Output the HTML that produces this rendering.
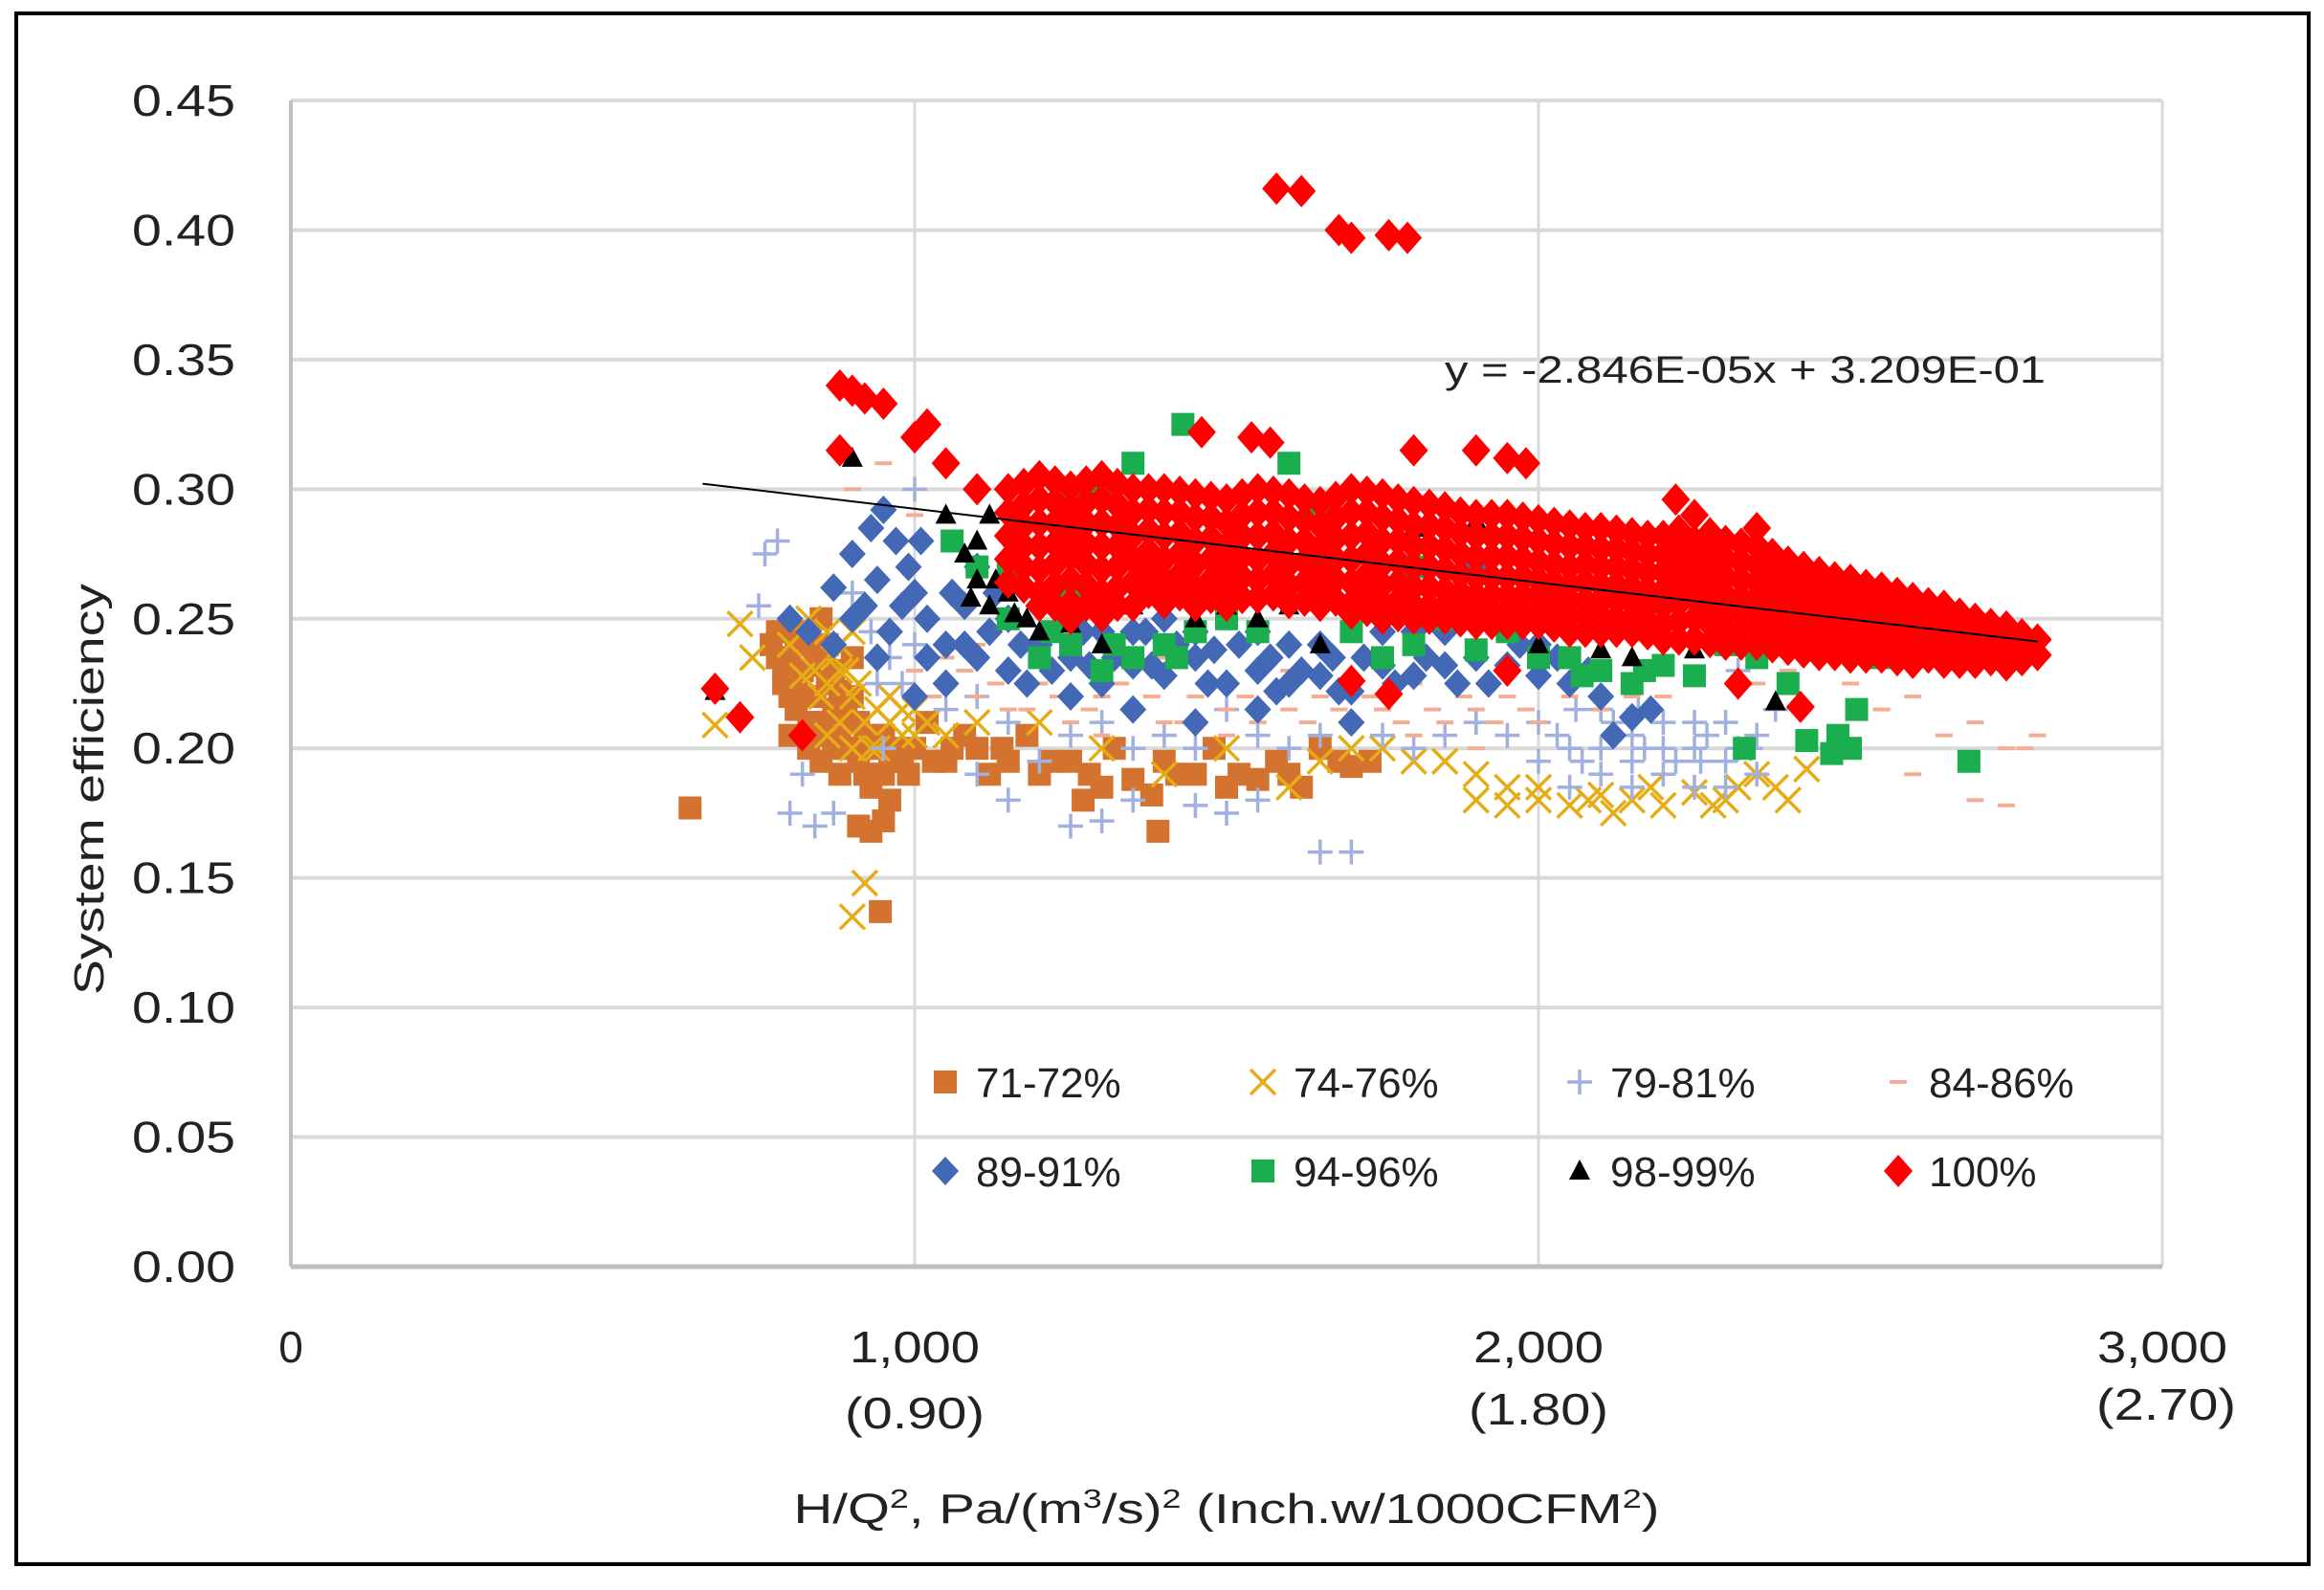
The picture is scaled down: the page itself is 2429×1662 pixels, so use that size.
<!DOCTYPE html>
<html><head><meta charset="utf-8"><style>
html,body{margin:0;padding:0;background:#fff}
svg{display:block}
text{font-family:"Liberation Sans",sans-serif;fill:#222}
</style></head><body>
<svg id="chart" width="2429" height="1662" viewBox="0 0 2429 1662" xmlns="http://www.w3.org/2000/svg">
<rect x="17" y="14" width="2396" height="1621" fill="#fff" stroke="#000" stroke-width="4"/>
<g id="grid"></g>
<g id="marks"></g>
<g id="axes"></g>
<text x="1510" y="400" font-size="40" textLength="628" lengthAdjust="spacingAndGlyphs">y = -2.846E-05x + 3.209E-01</text>
<text transform="translate(108,825) rotate(-90)" text-anchor="middle" font-size="44" textLength="430" lengthAdjust="spacingAndGlyphs">System efficiency</text>
<text x="1282" y="1592" text-anchor="middle" font-size="44" textLength="905" lengthAdjust="spacingAndGlyphs">H/Q<tspan font-size="28" dy="-16">2</tspan><tspan dy="16">, Pa/(m</tspan><tspan font-size="28" dy="-16">3</tspan><tspan dy="16">/s)</tspan><tspan font-size="28" dy="-16">2</tspan><tspan dy="16"> (Inch.w/1000CFM</tspan><tspan font-size="28" dy="-16">2</tspan><tspan dy="16">)</tspan></text>
<g id="legend"></g>
</svg>
<script>
const yTicks=[0,0.05,0.10,0.15,0.20,0.25,0.30,0.35,0.40,0.45];
const yTickLabels=["0.00","0.05","0.10","0.15","0.20","0.25","0.30","0.35","0.40","0.45"];
const xTicks=[0,1000,2000,3000];
const xTickLabels=["0","1,000","2,000","3,000"];
const xTickLabels2=["","(0.90)","(1.80)","(2.70)"];
const seriesNames=["71-72%","74-76%","79-81%","84-86%","89-91%","94-96%","98-99%","100%"];
const trendSlope=-2.846e-5, trendIntercept=0.3209, trendRange=[660,2800];

const s7172=[[640,.177],[780,.235],[790,.225],[800,.245],[810,.215],[820,.23],[830,.24],[840,.22],[850,.21],[860,.225],[870,.2],[880,.19],[890,.215],[900,.2],[910,.17],[930,.168],[950,.172],[960,.18],[945,.137],[920,.19],[980,.195],[1000,.2],[1050,.195],[1100,.2],[1150,.195],[1200,.19],[1250,.195],[1300,.185],[1350,.188],[1390,.168],[1400,.195],[1450,.19],[1500,.185],[1550,.188],[1600,.19],[1650,.2],[1700,.193],[1730,.195],[800,.205],[830,.2],[850,.195],[900,.22],[940,.205],[1020,.21],[1080,.205],[1180,.205],[1320,.2],[1480,.2],[770,.24],[850,.25],[790,.23],[810,.24],[870,.215],[900,.235],[960,.195],[1120,.19],[1270,.18],[1380,.182],
[790,.245],[800,.235],[820,.22],[830,.21],[840,.235],[860,.21],[870,.23],[880,.205],[890,.2],[900,.21],[910,.195],[920,.205],[930,.185],[940,.19],[820,.245],[840,.205],[860,.24],[800,.22],[780,.245],[950,.19],[970,.2],[990,.19],[1030,.195],[1060,.2],[1140,.2],[1220,.195],[1280,.19],[1420,.19],[1520,.19],[1580,.195],[1620,.185],[1680,.195],[810,.228],[850,.232],[880,.222],[910,.21],[930,.2],[950,.205]];
const s7476=[[680,.209],[720,.248],[740,.235],[800,.24],[820,.228],[850,.22],[870,.235],[880,.21],[900,.2],[920,.148],[900,.135],[940,.215],[960,.22],[980,.205],[1000,.215],[1050,.205],[1100,.21],[1200,.21],[1300,.2],[1500,.2],[1700,.2],[1850,.195],[1900,.18],[1950,.185],[2000,.18],[2050,.178],[2100,.182],[2150,.18],[2200,.178],[2250,.183],[2300,.18],[2350,.19],[2400,.18],[2430,.192],[1600,.185],[1400,.19],[830,.25],[860,.205],[910,.225],[890,.23],[930,.2],
[840,.23],[860,.225],[880,.23],[900,.22],[920,.21],[940,.2],[960,.21],[980,.215],[1000,.205],[1020,.21],[880,.24],[900,.245],[860,.245],[2000,.185],[2080,.18],[2120,.175],[2180,.185],[2280,.178],[2320,.185],[2380,.185],[1950,.178],[1900,.19],[1800,.195],[1750,.2],[1650,.195]];
const s7981=[[760,.275],[780,.28],[750,.255],[820,.19],[800,.175],[840,.17],[870,.175],[900,.26],[930,.245],[950,.2],[1000,.3],[1050,.215],[1100,.19],[1150,.18],[1200,.195],[1250,.17],[1300,.172],[1350,.18],[1450,.178],[1500,.175],[1550,.18],[1600,.2],[1650,.16],[1700,.16],[1800,.2],[1900,.21],[1950,.205],[2000,.195],[2050,.2],[2100,.19],[2150,.195],[2200,.19],[2250,.2],[2300,.185],[2350,.205],[2380,.215],[2320,.23],[1100,.22],[1300,.21],[1500,.215],[1700,.21],[2200,.21],[2100,.215],[2250,.185],[2000,.21],[1000,.24],[980,.225],[2050,.185],[2150,.205],[2250,.21],[2300,.195],[2200,.2],[2100,.2],[2300,.21],[2150,.185],[2350,.19],
[2030,.205],[2070,.195],[2120,.21],[2170,.2],[2220,.195],[2270,.205],[2320,.2],[2060,.215],[2160,.215],[2260,.195],[2340,.2],[1400,.205],[1450,.2],[1550,.205],[1650,.205],[1750,.205],[1850,.205],[1350,.2],[1250,.205],[1150,.21],[960,.235],[940,.225]];
const s8486=[[900,.3],[950,.31],[1000,.29],[1050,.235],[1100,.22],[1150,.215],[1200,.225],[1250,.21],[1300,.22],[1350,.215],[1400,.21],[1450,.22],[1500,.215],[1550,.21],[1600,.215],[1650,.22],[1700,.21],[1750,.215],[1800,.205],[1850,.21],[1900,.215],[1950,.22],[2000,.21],[2100,.215],[2200,.22],[2400,.23],[2500,.225],[2550,.215],[2600,.22],[2650,.25],[2700,.21],[2750,.2],[2800,.205],[2780,.2],[2700,.18],[2750,.178],[2600,.19],[1200,.24],[1400,.235],[1000,.23],[1100,.24],[1600,.23],[1800,.225],[2450,.25],[2550,.24],[1300,.205],[1500,.205],[1700,.225],[1900,.2],[2650,.205],
[1030,.22],[1080,.23],[1130,.225],[1180,.215],[1230,.22],[1280,.215],[1330,.225],[1380,.22],[1430,.21],[1480,.225],[1530,.22],[1580,.22],[1630,.21],[1680,.215],[1730,.22],[1780,.21],[1830,.215],[1880,.22],[1930,.21],[1980,.215],[2050,.22],[2150,.22],[2250,.225],[2350,.225]];
const s8991=[[800,.25],[830,.245],[870,.262],[900,.275],[930,.285],[950,.292],[970,.28],[990,.27],[920,.255],[960,.245],[1000,.26],[1020,.25],[1050,.24],[1080,.255],[1100,.235],[1150,.23],[1200,.24],[1250,.235],[1300,.225],[1350,.232],[1400,.228],[1450,.235],[1500,.225],[1550,.23],[1600,.225],[1650,.228],[1700,.222],[1750,.232],[1800,.228],[1850,.232],[1900,.235],[1950,.232],[2000,.228],[2050,.225],[2100,.22],[2150,.212],[2120,.205],[2180,.215],[1950,.29],[1900,.27],[1500,.26],[1400,.25],[1300,.245],[1200,.255],[1100,.27],[1700,.21],[1450,.21],[1000,.22],[1050,.225],[2000,.24],[1800,.245],[1600,.24],[1150,.25],[1250,.22],[1350,.215],[1550,.215],[1650,.24],[940,.265],[1020,.235],
[1120,.245],[1170,.24],[1220,.23],[1270,.245],[1320,.235],[1370,.245],[1420,.24],[1470,.225],[1520,.24],[1570,.235],[1620,.23],[1670,.235],[1720,.235],[1770,.225],[1820,.235],[1870,.225],[1920,.225],[1970,.24],[2030,.235],[2080,.23],[1060,.26],[1130,.26],[980,.255],[1010,.28],[900,.25],[870,.24],[940,.235],[1080,.24],[1250,.25],[1350,.245],[1450,.245],[1550,.245],[1750,.245],[1850,.245],[1180,.225],[1280,.232],[1380,.232],[1480,.238],[1580,.222],[1680,.222]];
const s9496=[[1060,.28],[1100,.27],[1150,.25],[1200,.235],[1250,.24],[1300,.23],[1350,.235],[1400,.24],[1450,.245],[1430,.325],[1350,.31],[1300,.3],[1250,.295],[1500,.25],[1550,.245],[1600,.31],[1650,.29],[1700,.245],[1750,.235],[1800,.24],[1850,.25],[1900,.238],[1950,.245],[2000,.235],[2050,.235],[2100,.23],[2150,.225],[2200,.232],[2300,.24],[2350,.235],[2330,.2],[2400,.225],[2430,.203],[2470,.198],[2480,.205],[2500,.2],[2510,.215],[2550,.235],[2700,.236],[2690,.195],[1150,.27],[1400,.265],[1600,.26],[1800,.27],[2250,.228],[1250,.26],[1220,.245],[1320,.24],[1420,.235],[2070,.228],[2170,.23]];
const s9899=[[680,.222],[900,.312],[1050,.29],[1080,.275],[1100,.265],[1120,.255],[1150,.26],[1180,.25],[1200,.245],[1250,.255],[1300,.24],[1350,.255],[1400,.26],[1450,.25],[1500,.255],[1550,.25],[1600,.255],[1650,.24],[1700,.30],[1800,.285],[1900,.288],[2000,.24],[2100,.238],[2150,.235],[2250,.238],[2380,.218],[1100,.28],[1120,.29],[1300,.255],[1250,.248],[1090,.258],[1130,.265],[1160,.252]];
const s100Extra=[[880,.340],[900,.338],[920,.335],[950,.333],[880,.315],[1000,.32],[1020,.325],[1050,.31],[1100,.30],[1580,.416],[1620,.415],[1680,.40],[1700,.397],[1760,.398],[1790,.397],[1540,.32],[1570,.318],[1900,.315],[1950,.312],[1980,.31],[1800,.315],[1460,.322],[680,.223],[720,.212],[820,.205],[1700,.226],[1760,.221],[1950,.23],[2420,.216],[2320,.225],[2220,.296],[2350,.285]];
const s100ColX=[1150,1200,1250,1300,1350,1400,1450,1500,1550,1600,1650,1700,1750,1800,1850,1900,1950,2000,2050,2100,2150,2200,2250,2300,2350,2400,2450,2500,2550,2600,2650,2700,2750,2800];
const s100ColY=[
[.300,.291,.282,.273,.264],
[.305,.296,.287,.278,.269,.260,.255],
[.301,.292,.283,.274,.265,.256,.250],
[.305,.296,.287,.278,.269,.260,.251],
[.300,.291,.282,.273,.264,.255],
[.300,.291,.282,.273,.264,.256],
[.298,.289,.280,.271,.262,.255],
[.296,.287,.278,.269,.261,.255],
[.300,.291,.282,.273,.265,.258],
[.298,.289,.280,.271,.263,.256],
[.295,.286,.277,.269,.262,.255],
[.300,.291,.282,.273,.264,.256,.252],
[.298,.289,.280,.271,.263,.256,.250],
[.295,.286,.278,.270,.262,.255,.250],
[.293,.285,.277,.269,.261,.255,.250],
[.290,.282,.274,.266,.259,.253,.248],
[.290,.282,.274,.266,.259,.253,.248],
[.288,.280,.272,.265,.259,.253,.248],
[.286,.278,.270,.263,.257,.251,.245],
[.285,.277,.270,.263,.257,.251,.245],
[.283,.276,.269,.262,.256,.250,.245],
[.282,.275,.268,.261,.255,.248,.242],
[.290,.280,.272,.265,.258,.250,.242],
[.280,.273,.266,.259,.252,.246,.240],
[.278,.271,.264,.258,.252,.246,.240],
[.272,.265,.259,.253,.248,.243,.238],
[.268,.262,.256,.251,.246,.241,.236],
[.265,.259,.253,.248,.243,.239,.235],
[.262,.256,.251,.246,.241,.235],
[.258,.252,.247,.242,.237,.233],
[.255,.249,.244,.239,.233],
[.250,.245,.240,.236,.233],
[.247,.242,.237,.232],
[.242,.236]];
const s100ColX2=[1175,1225,1275,1325,1375,1425,1475,1525,1575,1625,1675,1725,1775,1825,1875,1925,1975,2025,2075,2125,2175,2225,2275,2325,2375,2425,2475,2525,2575,2625,2675,2725,2775];
const s100ColY2=[
[.302,.294,.286,.278,.270,.262],
[.303,.295,.287,.279,.271,.263,.255],
[.303,.295,.287,.279,.271,.263,.255],
[.302,.294,.286,.278,.270,.262,.255],
[.300,.292,.284,.276,.268,.260],
[.299,.291,.283,.275,.267,.259],
[.297,.289,.281,.273,.265,.258],
[.298,.290,.282,.274,.266,.258],
[.299,.291,.283,.275,.267,.259],
[.296,.288,.280,.272,.264,.257],
[.297,.289,.281,.273,.265,.257],
[.299,.291,.283,.275,.267,.259,.253],
[.296,.288,.280,.272,.264,.257,.251],
[.294,.286,.278,.270,.262,.255,.250],
[.291,.283,.275,.267,.260,.254,.249],
[.290,.282,.274,.266,.259,.253,.248],
[.289,.281,.273,.266,.259,.253,.248],
[.287,.279,.271,.264,.258,.252,.247],
[.285,.278,.271,.264,.257,.251,.245],
[.284,.277,.270,.263,.257,.250,.245],
[.282,.275,.268,.261,.255,.249,.244],
[.284,.277,.270,.263,.256,.249,.242],
[.283,.276,.269,.262,.255,.248,.241],
[.279,.272,.265,.258,.252,.246,.240],
[.275,.268,.262,.256,.250,.244,.239],
[.270,.264,.258,.252,.247,.242,.237],
[.266,.260,.255,.250,.245,.240,.236],
[.263,.257,.252,.247,.242,.238,.235],
[.260,.254,.249,.244,.239,.234],
[.256,.250,.245,.240,.235],
[.252,.247,.242,.237,.233],
[.248,.243,.238,.234],
[.244,.239,.234]];

const NS="http://www.w3.org/2000/svg";
const X0=304,X1=2260,Y0=1324,Y1=105;
function sx(v){return X0+(v-0)/(3000-0)*(X1-X0);}
function sy(v){return Y0-(v-0)/(0.45-0)*(Y0-Y1);}
function mk(tag,attrs,parent){const e=document.createElementNS(NS,tag);for(const k in attrs)e.setAttribute(k,attrs[k]);parent.appendChild(e);return e;}

const grid=document.getElementById('grid'),axes=document.getElementById('axes'),marks=document.getElementById('marks'),legend=document.getElementById('legend');
yTicks.forEach((t,i)=>{
  if(i>0){const l=mk('line',{x1:X0,x2:X1,y1:sy(t),y2:sy(t),stroke:'#d9d9d9','stroke-width':4},grid);
  
  }
  const tx=mk('text',{x:246,y:sy(t)+16,'text-anchor':'end','font-size':46,textLength:108,lengthAdjust:'spacingAndGlyphs'},axes);
  
  
  tx.textContent=yTickLabels[i];
});
xTicks.forEach((t,i)=>{
  if(i>0){const l=mk('line',{x1:sx(t),x2:sx(t),y1:Y1,y2:Y0,stroke:'#d9d9d9','stroke-width':3},grid);
  
  }
  const a={x:sx(t),y:1424,'text-anchor':'middle','font-size':46};
  if(i>0){a.textLength=136;a.lengthAdjust='spacingAndGlyphs';}
  const tx=mk('text',a,axes);
  
  
  tx.textContent=xTickLabels[i];
  if(xTickLabels2[i]){const t2=mk('text',{x:sx(t)+(i==3?4:0),y:i==3?1484:(i==2?1489:1493),'text-anchor':'middle','font-size':46,textLength:146,lengthAdjust:'spacingAndGlyphs'},axes);
  
  
  t2.textContent=xTickLabels2[i];}
});
const ya=mk('line',{x1:X0,x2:X0,y1:Y1,y2:Y0,stroke:'#bfbfbf','stroke-width':4},axes);


const xa=mk('line',{x1:X0,x2:X1,y1:Y0,y2:Y0,stroke:'#bfbfbf','stroke-width':5},axes);



function marker(type,cx,cy,parent){
  let e;
  if(type==0){e=mk('rect',{x:cx-12,y:cy-12,width:24,height:24,fill:'#D4722F'},parent);}
  else if(type==1){e=mk('path',{d:`M${cx-13},${cy-13}L${cx+13},${cy+13}M${cx+13},${cy-13}L${cx-13},${cy+13}`,stroke:'#E5AC16','stroke-width':3.5,fill:'none'},parent);}
  else if(type==2){e=mk('path',{d:`M${cx-13},${cy}H${cx+13}M${cx},${cy-13}V${cy+13}`,stroke:'#A1B0DE','stroke-width':3.5,fill:'none'},parent);}
  else if(type==3){e=mk('rect',{x:cx-9,y:cy-2,width:18,height:4,fill:'#F3AD93'},parent);}
  else if(type==4){e=mk('path',{d:`M${cx},${cy-15}L${cx+14},${cy}L${cx},${cy+15}L${cx-14},${cy}Z`,fill:'#4368B6'},parent);}
  else if(type==5){e=mk('rect',{x:cx-12,y:cy-12,width:24,height:24,fill:'#1BAE4E'},parent);}
  else if(type==6){e=mk('path',{d:`M${cx},${cy-12}L${cx+11},${cy+9}L${cx-11},${cy+9}Z`,fill:'#000'},parent);}
  else {e=mk('path',{d:`M${cx},${cy-17}L${cx+15},${cy}L${cx},${cy+17}L${cx-15},${cy}Z`,fill:'#FF0000'},parent);}
  return e;
}
const all=[s7172,s7476,s7981,s8486,s8991,s9496,s9899];
all.forEach((arr,si)=>{
  const g=mk('g',{},marks);
  
  
  arr.forEach(p=>{const m=marker(si,sx(p[0]),sy(p[1]),g);
    
    });
});
const gr=mk('g',{},marks);


s100ColX.forEach((x,ci)=>{s100ColY[ci].forEach(y=>{const m=marker(7,sx(x),sy(y),gr);
  
  });});
s100ColX2.forEach((x,ci)=>{s100ColY2[ci].forEach(y=>{const m=marker(7,sx(x),sy(y),gr);
  
  });});
s100Extra.forEach(p=>{const m=marker(7,sx(p[0]),sy(p[1]),gr);
  
  });
const tl=mk('line',{x1:sx(trendRange[0]),y1:sy(trendSlope*trendRange[0]+trendIntercept),x2:sx(trendRange[1]),y2:sy(trendSlope*trendRange[1]+trendIntercept),stroke:'#000','stroke-width':2},marks);



const legX=[988,1320,1651,1984],legY=[1131,1224];
seriesNames.forEach((n,i)=>{
  const cx=legX[i%4],cy=legY[Math.floor(i/4)];
  const g=mk('g',{},legend);
  
  
  marker(i,cx,cy,g);
  const t=mk('text',{x:cx+32,y:cy+16,'font-size':44},g);
  t.textContent=n;
});
</script>
</body></html>
